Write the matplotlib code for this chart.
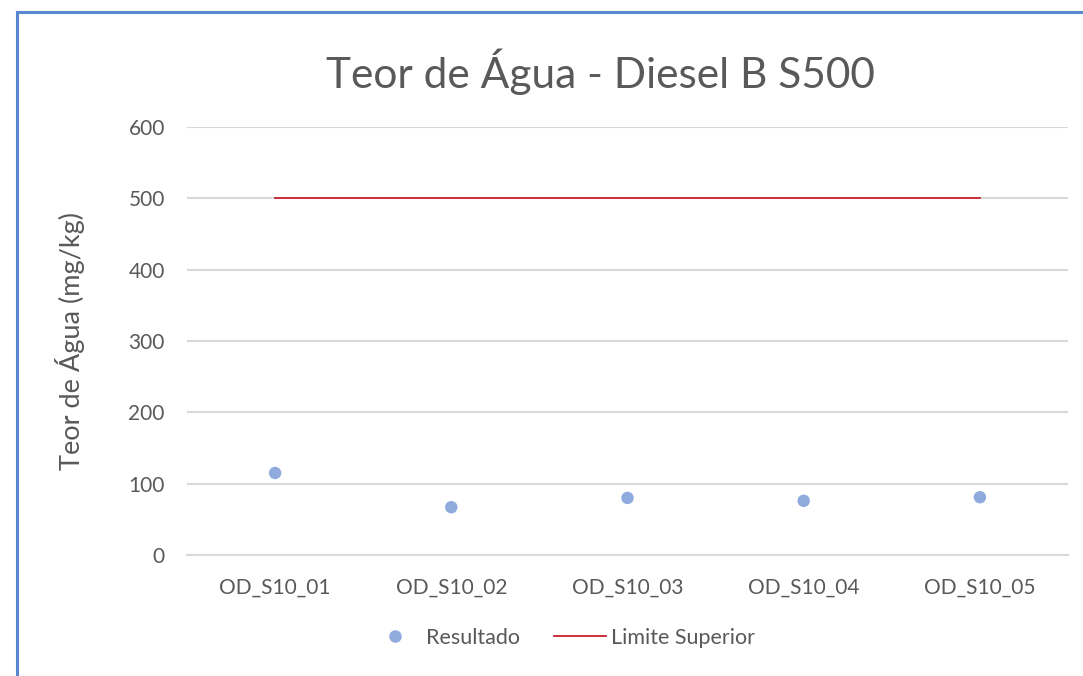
import matplotlib
matplotlib.use("Agg")
import matplotlib.pyplot as plt
from matplotlib.lines import Line2D

categories = ["OD_S10_01", "OD_S10_02", "OD_S10_03", "OD_S10_04", "OD_S10_05"]
resultado = [115, 67, 80, 76, 81]
limite_superior = [500, 500, 500, 500, 500]
yticks = [0, 100, 200, 300, 400, 500, 600]

plt.rcParams['font.family'] = ['Lato', 'DejaVu Sans']
text_color = '#595959'

fig = plt.figure(figsize=(10.83, 6.76), dpi=100)
ax = fig.add_axes([187/1083, 1-555/676, (1068-187)/1083, (555-127)/676])

x = list(range(len(categories)))
ax.plot(x, limite_superior, color='#C8202A', lw=1.3, label='Limite Superior', zorder=3)
ax.scatter(x, resultado, s=80, color='#8FAADC', edgecolors='none', label='Resultado', zorder=4)

ax.set_xlim(-0.5, len(categories) - 0.5)
ax.set_ylim(0, 600)
ax.set_yticks(yticks)
ax.set_xticks(x)
ax.set_xticklabels(categories)
ax.yaxis.grid(True, color='#D9D9D9', lw=1.5)
ax.set_axisbelow(True)
for s in ['top', 'right', 'left']:
    ax.spines[s].set_visible(False)
ax.spines['bottom'].set_color('#D9D9D9')
ax.spines['bottom'].set_linewidth(1.5)
ax.tick_params(axis='both', length=0, labelsize=15, colors=text_color)
ax.tick_params(axis='y', pad=16)
ax.tick_params(axis='x', pad=16)

ax.set_ylabel('Teor de Água (mg/kg)', fontsize=19.5, color=text_color, labelpad=31)
fig.text(600/1083, 1-72/676, 'Teor de Água - Diesel B S500', fontsize=30.5,
         color=text_color, ha='center', va='center')

handles = [
    Line2D([], [], marker='o', ls='none', color='#8FAADC', markersize=9, markeredgewidth=0),
    Line2D([], [], color='#C8202A', lw=1.3),
]
fig.legend(handles, ['Resultado', 'Limite Superior'], loc='center',
           bbox_to_anchor=(562/1083, 1-638/676), ncol=2, frameon=False,
           fontsize=15.5, labelcolor=text_color, handlelength=2.4, columnspacing=1.6,
           handletextpad=0.25)

# blue border (left and top)
fig.add_artist(Line2D([17/1083, 17/1083], [0, 1-12/676], transform=fig.transFigure,
                      color='#5B86D0', lw=2.2))
fig.add_artist(Line2D([17/1083, 1], [1-12/676, 1-12/676], transform=fig.transFigure,
                      color='#5B86D0', lw=2.2))

fig.savefig('out.png', dpi=100)
